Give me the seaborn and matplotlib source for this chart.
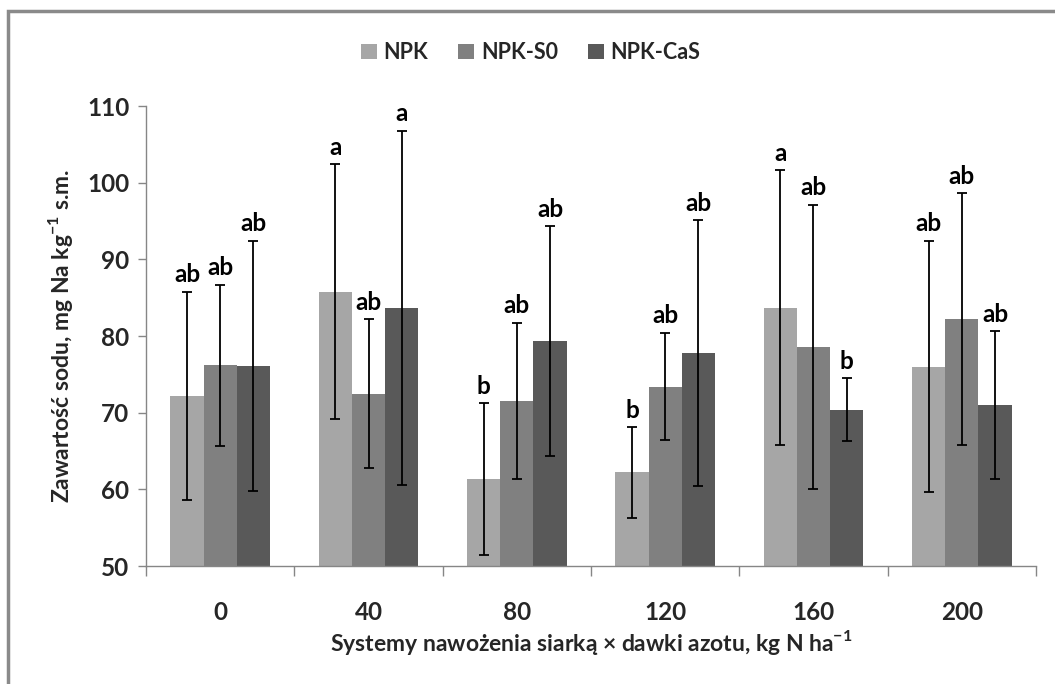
import numpy as np
import pandas as pd
import matplotlib
matplotlib.use("Agg")
import matplotlib.pyplot as plt
import seaborn as sns
from matplotlib.patches import Rectangle
from matplotlib.ticker import FixedLocator

# Nitrogen doses (kg N/ha) and fertilisation systems
doses = ["0", "40", "80", "120", "160", "200"]
systems = ["NPK", "NPK-S0", "NPK-CaS"]

# Mean sodium content, mg Na/kg DM
npk_mean = [72.2, 85.8, 61.3, 62.2, 83.7, 76.0]
npks0_mean = [76.2, 72.5, 71.5, 73.4, 78.6, 82.2]
npkcas_mean = [76.1, 83.7, 79.3, 77.8, 70.4, 71.0]

# Standard deviations
npk_sd = [13.6, 16.6, 9.9, 5.9, 17.9, 16.4]
npks0_sd = [10.5, 9.7, 10.2, 7.0, 18.5, 16.4]
npkcas_sd = [16.3, 23.1, 15.0, 17.3, 4.1, 9.6]

# Homogeneous groups
npk_letters = ["ab", "a", "b", "b", "a", "ab"]
npks0_letters = ["ab", "ab", "ab", "ab", "ab", "ab"]
npkcas_letters = ["ab", "a", "ab", "ab", "b", "ab"]

colors = ["#a6a6a6", "#808080", "#595959"]

means = [npk_mean, npks0_mean, npkcas_mean]
sds = [npk_sd, npks0_sd, npkcas_sd]
letters = [npk_letters, npks0_letters, npkcas_letters]

df = pd.DataFrame({
    "dose": np.tile(doses, len(systems)),
    "system": np.repeat(systems, len(doses)),
    "value": np.concatenate(means),
})

sns.set_theme(style="white")
plt.rcParams["font.family"] = ["Lato", "DejaVu Sans"]
plt.rcParams["font.weight"] = "bold"
plt.rcParams["mathtext.fontset"] = "custom"
plt.rcParams["mathtext.rm"] = "Lato"
plt.rcParams["mathtext.bf"] = "Lato:bold"

fig = plt.figure(figsize=(10.55, 6.84), dpi=100)
ax = fig.add_axes([146 / 1055, 1 - 566 / 684, (1036 - 146) / 1055, (566 - 106) / 684])

sns.barplot(data=df, x="dose", y="value", hue="system", order=doses,
            hue_order=systems, palette=colors, width=0.67, saturation=1,
            errorbar=None, linewidth=0, ax=ax)

bar_containers = list(ax.containers)

# Error bars and letters on top of each bar
for s_idx, container in enumerate(bar_containers):
    for d_idx, patch in enumerate(container.patches):
        xc = patch.get_x() + patch.get_width() / 2
        m = means[s_idx][d_idx]
        sd = sds[s_idx][d_idx]
        ax.errorbar(xc, m, yerr=sd, color="black", elinewidth=1.3,
                    capsize=3.4, capthick=1.3, zorder=4)
        ax.annotate(letters[s_idx][d_idx], (xc, m + sd), xytext=(0, 4),
                    textcoords="offset points", ha="center", va="bottom",
                    fontsize=17.5, fontweight="bold", color="black")

ax.set_ylim(50, 110)
ax.set_yticks(range(50, 111, 10))
ax.set_xlim(-0.5, len(doses) - 0.5)

for side in ["top", "right"]:
    ax.spines[side].set_visible(False)
for side in ["left", "bottom"]:
    ax.spines[side].set_color("#868686")
    ax.spines[side].set_linewidth(1.0)

ax.tick_params(axis="y", which="major", left=True, length=6, width=1.0,
               color="#868686", labelsize=17.5, pad=6)
ax.tick_params(axis="x", which="major", bottom=False, labelsize=17.5, pad=19)
ax.xaxis.set_minor_locator(FixedLocator(np.arange(-0.5, len(doses), 1.0)))
ax.tick_params(axis="x", which="minor", bottom=True, length=7, width=1.0,
               color="#868686")
for lab in ax.get_xticklabels() + ax.get_yticklabels():
    lab.set_fontweight("bold")

ax.set_xlabel(r"Systemy nawożenia siarką × dawki azotu, kg N ha$^{\mathbf{-1}}$",
              fontsize=16.5, fontweight="bold", labelpad=3)
ax.set_ylabel(r"Zawartość sodu, mg Na kg$^{\mathbf{-1}}$ s.m.",
              fontsize=16.5, fontweight="bold", labelpad=9)

ax.legend(loc="upper center", bbox_to_anchor=(0.503, 0.967),
          bbox_transform=fig.transFigure, ncol=3, frameon=False,
          handlelength=0.75, handleheight=0.75,
          handletextpad=0.3, columnspacing=1.4,
          prop={"weight": "bold", "size": 15.5})

# Chart frame
fig.patches.append(Rectangle((8 / 1055, -0.1), 1.2, 1 - 11 / 684 + 0.1,
                             transform=fig.transFigure, fill=False,
                             edgecolor="#8a8a8a", linewidth=2.5))

fig.savefig("out.png", dpi=100)
